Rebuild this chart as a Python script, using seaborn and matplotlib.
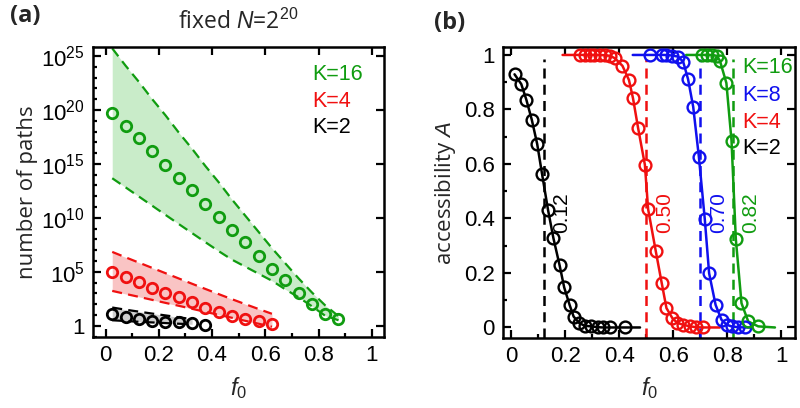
import numpy as np
import matplotlib
matplotlib.use("Agg")
import matplotlib.pyplot as plt
import seaborn as sns
from matplotlib.ticker import FixedLocator, MultipleLocator, NullFormatter

# ---- panel (a): number of paths (log10) vs f0, fixed N = 2^20 ----
f_k16 = [0.025, 0.075, 0.125, 0.175, 0.225, 0.275, 0.325, 0.375, 0.425,
         0.475, 0.525, 0.575, 0.625, 0.675, 0.725, 0.775, 0.825, 0.875]
logp_k16 = [19.74, 18.54, 17.37, 16.19, 14.89, 13.72, 12.55, 11.30, 10.04,
            8.87, 7.73, 6.50, 5.31, 4.23, 3.05, 2.00, 1.14, 0.68]
logp_k16_hi = [25.7, 24.1, 22.6, 21.0, 19.5, 17.9, 16.4, 14.8, 13.3,
               11.7, 10.2, 8.7, 7.2, 5.8, 4.4, 3.1, 1.9, 0.9]
logp_k16_lo = [13.67, 12.83, 11.98, 11.13, 10.28, 9.43, 8.59, 7.75, 6.92,
               6.13, 5.48, 4.83, 4.18, 3.39, 2.65, 1.82, 0.94, 0.52]

f_k4 = [0.025, 0.075, 0.125, 0.175, 0.225, 0.275, 0.325, 0.375, 0.425,
        0.475, 0.525, 0.575, 0.625]
logp_k4 = [5.0, 4.51, 4.04, 3.55, 3.07, 2.63, 2.19, 1.70, 1.29, 0.94, 0.63, 0.46, 0.21]
logp_k4_hi = [6.85, 6.35, 5.86, 5.37, 4.88, 4.39, 3.90, 3.42, 2.94, 2.47, 2.01, 1.56, 1.12]
logp_k4_lo = [3.24, 2.96, 2.69, 2.41, 2.13, 1.86, 1.58, 1.30, 1.02, 0.75, 0.47, 0.20, -0.08]

f_k2 = [0.025, 0.075, 0.125, 0.175, 0.225, 0.275, 0.325, 0.375]
logp_k2 = [1.10, 0.83, 0.63, 0.45, 0.36, 0.34, 0.24, 0.06]
f_k2_band = [0.025, 0.075, 0.125, 0.175, 0.225, 0.275, 0.325]
logp_k2_hi = [1.70, 1.50, 1.32, 1.14, 0.97, 0.80, 0.62]
logp_k2_lo = [0.52, 0.45, 0.38, 0.32, 0.26, 0.20, 0.15]

# ---- panel (b): accessibility A vs f0 ----
fb_k2 = [0.012, 0.037, 0.056, 0.076, 0.096, 0.114, 0.136, 0.156, 0.179, 0.196,
         0.216, 0.231, 0.251, 0.272, 0.297, 0.321, 0.340, 0.365, 0.420]
acc_k2 = [0.929, 0.893, 0.835, 0.762, 0.673, 0.563, 0.432, 0.328, 0.228, 0.147,
          0.083, 0.040, 0.017, 0.006, 0.004, 0.001, 0.0, 0.0, 0.0]

fb_k4 = [0.253, 0.272, 0.290, 0.308, 0.327, 0.346, 0.365, 0.384, 0.412, 0.436,
         0.451, 0.470, 0.495, 0.507, 0.535, 0.557, 0.575, 0.597, 0.615, 0.637,
         0.662, 0.686, 0.710]
acc_k4 = [1.0, 1.0, 1.0, 1.0, 1.0, 0.999, 0.997, 0.988, 0.960, 0.908,
          0.841, 0.731, 0.597, 0.434, 0.282, 0.165, 0.071, 0.034, 0.017, 0.010,
          0.004, 0.001, 0.0]

fb_k8 = [0.513, 0.557, 0.575, 0.594, 0.618, 0.637, 0.655, 0.674, 0.695, 0.717,
         0.733, 0.757, 0.779, 0.798, 0.816, 0.841, 0.866]
acc_k8 = [1.0, 1.0, 1.0, 0.998, 0.994, 0.975, 0.911, 0.810, 0.627, 0.397,
          0.199, 0.083, 0.028, 0.010, 0.004, 0.001, 0.0]

fb_k16 = [0.705, 0.724, 0.742, 0.761, 0.773, 0.797, 0.816, 0.832, 0.853, 0.878, 0.915]
acc_k16 = [1.0, 1.0, 1.0, 0.997, 0.979, 0.897, 0.686, 0.324, 0.089, 0.022, 0.004]

# theory curves extend past the simulated points
line_start = {"K=2": (0.012, 0.929), "K=4": (0.19, 1.0), "K=8": (0.45, 1.0), "K=16": (0.648, 1.0)}
line_end = {"K=2": 0.477, "K=4": 0.773, "K=8": 0.884, "K=16": 0.977}

thresholds = [0.12, 0.50, 0.70, 0.82]
threshold_labels = ["0.12", "0.50", "0.70", "0.82"]

GREEN = "#109c10"
RED = "#f01010"
BLUE = "#1010ee"
BLACK = "#000000"

sns.set_theme(style="ticks")
plt.rcParams["font.family"] = ["Liberation Sans", "DejaVu Sans"]
plt.rcParams["mathtext.fontset"] = "custom"
plt.rcParams["mathtext.rm"] = "Liberation Sans"
plt.rcParams["mathtext.it"] = "Liberation Sans:italic"
plt.rcParams["axes.linewidth"] = 1.8
plt.rcParams["axes.edgecolor"] = "black"

fig = plt.figure(figsize=(8, 4.08), dpi=100)
ax1 = fig.add_axes([0.116, 0.174, 0.364, 0.712])
ax2 = fig.add_axes([0.629, 0.172, 0.365, 0.712])

# ---------------- panel (a) ----------------
def band(ax, f, hi, lo, fill, color):
    ax.fill_between(f, 10.0 ** np.array(hi), 10.0 ** np.array(lo), color=fill, lw=0, zorder=1)
    for v in (hi, lo):
        sns.lineplot(x=f, y=10.0 ** np.array(v), ax=ax, color=color, lw=1.6, zorder=2)
        ax.lines[-1].set_dashes((4.5, 2.8))

band(ax1, f_k16, logp_k16_hi, logp_k16_lo, "#c9ecc9", GREEN)
band(ax1, f_k4, logp_k4_hi, logp_k4_lo, "#f9c4c4", RED)
band(ax1, f_k2_band, logp_k2_hi, logp_k2_lo, "#cfcfcf", BLACK)

for f, lp, c in [(f_k16, logp_k16, GREEN), (f_k4, logp_k4, RED), (f_k2, logp_k2, BLACK)]:
    ax1.plot(f, 10.0 ** np.array(lp), "o", ms=7.5, mfc="none", mec=c, mew=2.0, zorder=3)

ax1.set_yscale("log")
ax1.set_xlim(-0.048, 1.046)
ax1.set_ylim(10 ** -1.03, 10 ** 25.87)
major_exp = [0, 5, 10, 15, 20, 25]
ax1.yaxis.set_major_locator(FixedLocator([10.0 ** e for e in major_exp]))
ax1.set_yticklabels(["1"] + [f"$10^{{{e}}}$" for e in major_exp[1:]])
ax1.yaxis.set_minor_locator(FixedLocator([10.0 ** e for e in range(-1, 26) if e % 5]))
ax1.yaxis.set_minor_formatter(NullFormatter())
ax1.xaxis.set_major_locator(MultipleLocator(0.2))
ax1.xaxis.set_minor_locator(MultipleLocator(0.1))
ax1.xaxis.set_major_formatter(plt.FuncFormatter(lambda v, p: f"{v:g}"))

ax1.set_xlabel(r"$\mathit{f_0}$", fontsize=17, labelpad=6)
ax1.set_ylabel("number of paths", fontsize=16, family=["Open Sans", "DejaVu Sans"], labelpad=2)
ax1.set_title("fixed $N$=2$^{20}$", fontsize=16.5, family=["Open Sans", "DejaVu Sans"], pad=13)

for txt, c, yy in [("K=16", GREEN, 0.905), ("K=4", RED, 0.812), ("K=2", BLACK, 0.72)]:
    ax1.text(0.755, yy, txt, color=c, fontsize=15.5, transform=ax1.transAxes, va="center", ha="left")

# ---------------- panel (b) ----------------
series_b = [("K=2", fb_k2, acc_k2, BLACK), ("K=4", fb_k4, acc_k4, RED),
            ("K=8", fb_k8, acc_k8, BLUE), ("K=16", fb_k16, acc_k16, GREEN)]
for name, f, a, c in series_b:
    lx = [line_start[name][0]] + list(f) + [line_end[name]]
    ly = [line_start[name][1]] + list(a) + [0.0]
    sns.lineplot(x=lx, y=ly, ax=ax2, color=c, lw=1.8, sort=False, zorder=2)
    ax2.plot(f, a, "o", ms=8.5, mfc="none", mec=c, mew=1.7, zorder=3)

ax2.set_xlim(-0.03, 1.052)
ax2.set_ylim(-0.038, 1.028)
thr_colors = [BLACK, RED, BLUE, GREEN]
for x0, lab, c in zip(thresholds, threshold_labels, thr_colors):
    ax2.vlines(x0, -0.038, 0.985, color=c, lw=1.8, linestyles=(0, (4, 2.5)), zorder=2.5)
    ax2.text(x0 + 0.033, 0.42, lab, rotation=90, color=c, fontsize=15, va="center", ha="left")

for txt, c, yy in [("K=16", GREEN, 0.93), ("K=8", BLUE, 0.835), ("K=4", RED, 0.742), ("K=2", BLACK, 0.652)]:
    ax2.text(0.818, yy, txt, color=c, fontsize=15.5, transform=ax2.transAxes, va="center", ha="left")

ax2.xaxis.set_major_locator(MultipleLocator(0.2))
ax2.xaxis.set_minor_locator(MultipleLocator(0.1))
ax2.yaxis.set_major_locator(MultipleLocator(0.2))
ax2.yaxis.set_minor_locator(MultipleLocator(0.1))
fmt = plt.FuncFormatter(lambda v, p: f"{v:g}")
ax2.xaxis.set_major_formatter(fmt)
ax2.yaxis.set_major_formatter(fmt)
ax2.set_xlabel(r"$f_0$", fontsize=17, labelpad=6)
ax2.set_ylabel("accessibility $A$", fontsize=16, family=["Open Sans", "DejaVu Sans"], labelpad=4)

for ax in (ax1, ax2):
    ax.tick_params(which="both", direction="in", top=True, right=True, labelsize=16,
                   width=1.6, colors="black")
    ax.tick_params(which="major", length=6, pad=6)
    ax.tick_params(which="minor", length=3, top=False, right=False)
    for s in ax.spines.values():
        s.set_visible(True)
        s.set_linewidth(1.8)

fig.text(0.012, 0.945, "(a)", fontsize=17, fontweight="bold", family=["Open Sans", "DejaVu Sans"])
fig.text(0.542, 0.93, "(b)", fontsize=17, fontweight="bold", family=["Open Sans", "DejaVu Sans"])

fig.savefig("out.png", dpi=100)
